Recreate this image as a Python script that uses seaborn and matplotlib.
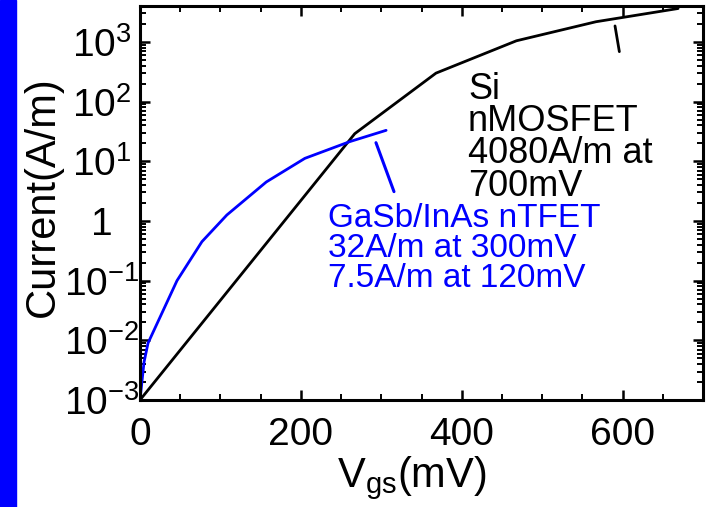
import numpy as np
import pandas as pd
import matplotlib
matplotlib.use("Agg")
import matplotlib.pyplot as plt
import matplotlib.ticker as mticker
from matplotlib.patches import Rectangle
import seaborn as sns

# ---------------- data ----------------
si_vgs = [0, 267, 368, 468, 567, 669]
si_current = [1e-3, 29, 300, 1045, 2180, 3630]

tfet_vgs = [0, 5, 10, 46, 77, 108, 157, 205, 261, 306]
tfet_current = [1e-3, 4.3e-3, 9e-3, 0.1, 0.45, 1.26, 4.5, 11.2, 21.4, 33]

si_leader_x = [590.6, 596.0]
si_leader_y = [1854, 687]
tfet_leader_x = [293.4, 315.8]
tfet_leader_y = [20.5, 3.10]

si_text = ["Si", "nMOSFET", "4080A/m at", "700mV"]
tfet_text = ["GaSb/InAs nTFET", "32A/m at 300mV", "7.5A/m at 120mV"]

x_ticks = [0, 200, 400, 600]
x_tick_labels = ["0", "200", "400", "600"]
y_ticks = [1e-3, 1e-2, 1e-1, 1, 1e1, 1e2, 1e3]
y_tick_labels = ["10$^{-3}$", "10$^{-2}$", "10$^{-1}$", "1", "10$^{1}$", "10$^{2}$", "10$^{3}$"]

# ---------------- style ----------------
sns.set_style("ticks")
plt.rcParams["font.family"] = ["Liberation Sans", "DejaVu Sans"]
plt.rcParams["mathtext.fontset"] = "custom"
plt.rcParams["mathtext.rm"] = "Liberation Sans"
plt.rcParams["mathtext.it"] = "Liberation Sans:italic"
plt.rcParams["mathtext.bf"] = "Liberation Sans:bold"
plt.rcParams["mathtext.default"] = "regular"
plt.rcParams["text.color"] = "black"
plt.rcParams["axes.labelcolor"] = "black"
plt.rcParams["xtick.color"] = "black"
plt.rcParams["ytick.color"] = "black"
plt.rcParams["xtick.labelcolor"] = "black"
plt.rcParams["ytick.labelcolor"] = "black"

BLUE = "#0000FF"

fig = plt.figure(figsize=(7.07, 5.07), dpi=100)
W, H = 707, 507
ax = fig.add_axes([140 / W, 1 - 400 / H, 563 / W, 394 / H])

# left blue bar
fig.add_artist(Rectangle((0, 0), 16 / W, 1, transform=fig.transFigure,
                         color=BLUE, zorder=0))

df_si = pd.DataFrame({"vgs": si_vgs, "current": si_current})
df_tfet = pd.DataFrame({"vgs": tfet_vgs, "current": tfet_current})

sns.lineplot(data=df_si, x="vgs", y="current", ax=ax, color="black",
             lw=2.0, sort=False, estimator=None)
sns.lineplot(data=df_tfet, x="vgs", y="current", ax=ax, color=BLUE,
             lw=2.0, sort=False, estimator=None)
ax.plot(si_leader_x, si_leader_y, color="black", lw=2.0)
ax.plot(tfet_leader_x, tfet_leader_y, color=BLUE, lw=2.2)

ax.set_yscale("log")
ax.set_xlim(0, 700)
ax.set_ylim(1e-3, 4000)

ax.xaxis.set_major_locator(mticker.FixedLocator(x_ticks))
ax.xaxis.set_major_formatter(mticker.FixedFormatter(x_tick_labels))
ax.xaxis.set_minor_locator(mticker.MultipleLocator(50))
ax.yaxis.set_major_locator(mticker.FixedLocator(y_ticks))
ax.yaxis.set_major_formatter(mticker.FixedFormatter(y_tick_labels))
ax.yaxis.set_minor_locator(mticker.LogLocator(base=10, subs=np.arange(2, 10), numticks=20))
ax.yaxis.set_minor_formatter(mticker.NullFormatter())

for s in ax.spines.values():
    s.set_linewidth(2.2)
    s.set_color("black")

ax.tick_params(which="both", direction="in", top=True, right=True, colors="black")
ax.tick_params(which="major", length=7.5, width=1.8)
ax.tick_params(which="minor", length=4, width=1.4)
ax.tick_params(axis="x", which="major", labelsize=28, pad=12.5)
ax.tick_params(axis="y", which="major", labelsize=28, pad=27.4)
for lab in ax.get_yticklabels():
    lab.set_ha("center")

ax.set_xlabel("V$_{\\mathrm{gs}}$(mV)", fontsize=30, va="baseline")
ax.xaxis.set_label_coords((411.7 - 140) / 563, (400 - 486.7) / 394)
ax.set_ylabel("Current(A/m)", fontsize=30, va="center")
ax.yaxis.set_label_coords((42.5 - 140) / 563, (400 - 196.7) / 394)

# annotations
ax.text(407.8, 318, "\n".join(si_text), fontsize=26, color="black",
        ha="left", va="top", linespacing=0.905)
ax.text(233.7, 2.02, "\n".join(tfet_text), fontsize=24, color=BLUE,
        ha="left", va="top", linespacing=0.964)

fig.savefig("out.png", dpi=100)
